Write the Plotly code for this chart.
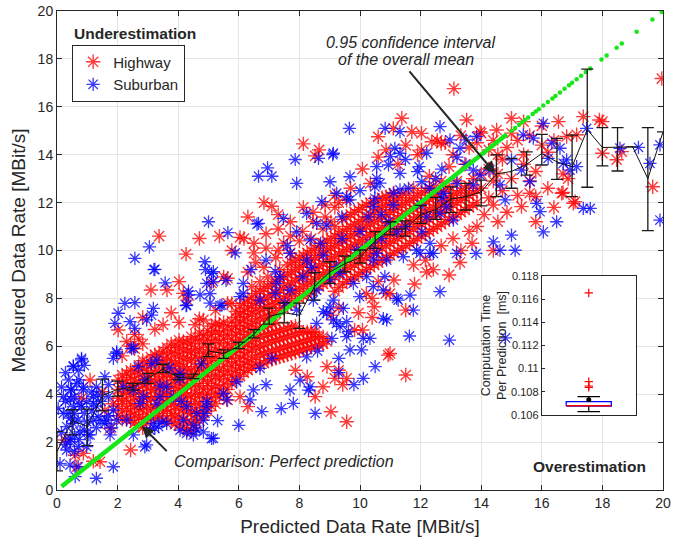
import plotly.graph_objects as go

# ---------------- data ----------------
# Highway samples, grouped by predicted rate: (predicted, [measured, ...])
highway_columns = [
    (0.26, [2.09]), (0.6, [1.45]), (0.65, [0.97]), (0.81, [3.83]), (0.87, [1.53]),
    (1.09, [4.59]), (1.2, [1.2]), (1.42, [1.18]), (1.5, [4.1]), (1.58, [3.33]),
    (1.75, [2.57]), (1.85, [3.6]),
    (2.02, [3.1, 3.5, 3.83, 4.2, 4.6, 6.68]),
    (2.15, [2.95, 3.3, 3.7, 4.05, 4.45, 4.8, 5.6]),
    (2.3, [3.0, 3.4, 3.75, 4.1, 4.5, 4.85, 6.2]),
    (2.43, [1.67, 2.9, 3.25, 3.6, 4.0, 4.35, 4.7, 5.0, 6.0]),
    (2.56, [2.8, 3.15, 3.5, 3.9, 4.25, 4.6, 4.95, 5.9, 6.5]),
    (2.7, [2.7, 3.05, 3.4, 3.8, 4.15, 4.5, 4.85, 5.2, 6.3]),
    (2.83, [2.6, 2.95, 3.35, 3.7, 4.05, 4.4, 4.75, 5.1, 5.4, 6.1, 7.2]),
    (2.96, [2.8, 3.15, 3.55, 3.9, 4.3, 4.65, 5.0, 5.35]),
    (3.1, [3.0, 3.4, 3.8, 4.15, 4.5, 4.85, 5.2, 5.55, 8.35]),
    (3.23, [3.05, 3.45, 3.85, 4.2, 4.55, 4.9, 5.3, 5.65, 6.7]),
    (3.37, [3.1, 3.5, 3.9, 4.25, 4.6, 4.95, 5.35, 5.7, 10.6]),
    (3.5, [2.9, 3.3, 3.65, 4.0, 4.4, 4.75, 5.1, 5.45, 5.8, 6.9]),
    (3.63, [3.0, 3.35, 3.75, 4.1, 4.45, 4.85, 5.2, 5.55, 5.95, 8.35]),
    (3.77, [2.85, 3.2, 3.6, 3.95, 4.3, 4.7, 5.05, 5.4, 5.75, 6.1, 7.4]),
    (3.9, [2.75, 3.1, 3.5, 3.85, 4.25, 4.6, 4.95, 5.3, 5.7, 6.05]),
    (4.03, [2.7, 3.05, 3.4, 3.8, 4.15, 4.5, 4.9, 5.25, 5.6, 5.95, 6.25, 7.0, 8.7]),
    (4.17, [2.6, 2.95, 3.35, 3.7, 4.05, 4.4, 4.8, 5.15, 5.5, 5.85, 6.2, 8.21]),
    (4.26, [9.85]),
    (4.3, [2.5, 2.85, 3.25, 3.6, 3.95, 4.35, 4.7, 5.05, 5.45, 5.8, 6.15, 7.93]),
    (4.43, [2.45, 2.8, 3.2, 3.55, 3.9, 4.3, 4.65, 5.0, 5.4, 5.75, 6.1, 6.4]),
    (4.56, [2.6, 2.95, 3.3, 3.7, 4.05, 4.45, 4.8, 5.15, 5.55, 5.9, 6.3, 6.9]),
    (4.7, [2.9, 3.25, 3.6, 4.0, 4.35, 4.75, 5.1, 5.5, 5.85, 6.25, 6.55, 7.15, 10.5]),
    (4.83, [3.1, 3.45, 3.85, 4.2, 4.6, 4.95, 5.35, 5.7, 6.1, 6.45, 7.1]),
    (4.97, [3.3, 3.7, 4.05, 4.45, 4.8, 5.2, 5.55, 5.95, 6.3, 6.65]),
    (5.1, [3.5, 3.85, 4.25, 4.6, 5.0, 5.4, 5.75, 6.15, 6.5, 6.85, 8.65]),
    (5.23, [3.6, 4.0, 4.35, 4.75, 5.1, 5.5, 5.85, 6.25, 6.6, 6.95, 7.5]),
    (5.36, [3.9, 4.25, 4.65, 5.0, 5.4, 5.75, 6.15, 6.5, 6.9, 10.6]),
    (5.5, [4.05, 4.4, 4.8, 5.15, 5.55, 5.9, 6.3, 6.65, 7.0, 8.9]),
    (5.63, [3.76, 4.2, 4.6, 4.95, 5.35, 5.7, 6.1, 6.45, 6.85, 7.8, 8.84]),
    (5.77, [4.45, 4.8, 5.2, 5.55, 5.95, 6.3, 6.7, 7.05, 7.79, 10.0]),
    (5.9, [4.6, 5.0, 5.35, 5.75, 6.1, 6.5, 6.85, 7.2, 7.45]),
    (6.04, [3.9, 4.75, 5.1, 5.5, 5.85, 6.25, 6.6, 7.0, 7.35, 7.7, 10.55]),
    (6.17, [4.9, 5.25, 5.6, 6.0, 6.35, 6.75, 7.1, 7.45, 7.8, 10.5]),
    (6.3, [3.48, 5.0, 5.35, 5.75, 6.1, 6.5, 6.85, 7.25, 7.6, 7.95, 9.1, 11.4]),
    (6.43, [5.1, 5.45, 5.85, 6.2, 6.6, 6.95, 7.35, 7.7, 8.05, 8.5]),
    (6.5, [9.9, 10.3]),
    (6.56, [5.2, 5.55, 5.95, 6.3, 6.7, 7.05, 7.45, 7.8, 8.2, 9.5]),
    (6.7, [5.25, 5.65, 6.0, 6.4, 6.75, 7.15, 7.5, 7.9, 8.3, 8.7]),
    (6.83, [5.3, 5.7, 6.05, 6.45, 6.8, 7.2, 7.6, 7.95, 8.4, 9.3, 12.0]),
    (6.9, [10.1, 10.7]),
    (6.96, [5.4, 5.75, 6.15, 6.5, 6.9, 7.3, 7.65, 8.05, 8.5, 8.9]),
    (7.09, [5.45, 5.8, 6.2, 6.55, 6.95, 7.35, 7.75, 8.15, 8.6, 11.85]),
    (7.22, [5.5, 5.85, 6.25, 6.6, 7.0, 7.4, 7.8, 8.25, 8.7, 9.7]),
    (7.3, [10.0, 10.9, 11.5]),
    (7.35, [5.55, 5.9, 6.3, 6.65, 7.5, 7.9, 8.35, 8.8, 9.2]),
    (7.48, [5.6, 5.95, 6.35, 6.7, 7.6, 8.0, 8.45, 8.9, 10.3]),
    (7.61, [5.65, 6.0, 6.4, 6.75, 7.7, 8.1, 8.55, 9.0, 9.4]),
    (7.7, [9.9, 10.6, 11.2]),
    (7.74, [5.7, 6.05, 6.45, 6.8, 7.8, 8.2, 8.65, 9.1, 9.5]),
    (7.87, [5.0, 5.75, 6.1, 6.5, 6.85, 7.9, 8.3, 8.75, 9.2, 9.6]),
    (8.0, [5.8, 6.15, 6.55, 8.0, 8.4, 8.85, 9.3, 9.7, 10.4]),
    (8.1, [10.8]),
    (8.13, [5.85, 6.2, 6.6, 8.1, 8.5, 8.95, 9.4, 9.8, 11.8, 14.45]),
    (8.26, [4.73, 5.9, 6.25, 6.6, 8.2, 8.6, 9.05, 9.5, 9.9]),
    (8.39, [5.95, 6.3, 6.6, 8.3, 8.7, 9.15, 9.6, 10.0, 10.5]),
    (8.45, [11.2, 11.6]),
    (8.52, [3.9, 6.0, 6.35, 6.6, 8.4, 8.8, 9.25, 9.7, 10.1, 13.95]),
    (8.65, [6.05, 6.4, 8.5, 8.9, 9.35, 9.8, 10.2, 14.2]),
    (8.78, [4.31, 6.1, 6.4, 8.6, 9.0, 9.45, 9.9, 10.3, 10.9]),
    (8.85, [11.4, 11.9]),
    (8.91, [5.15, 6.2, 8.7, 9.1, 9.55, 10.0, 10.4]),
    (9.04, [3.27, 7.3, 8.8, 9.2, 9.65, 10.1, 10.5, 11.2]),
    (9.17, [4.66, 8.3, 8.9, 9.3, 9.75, 10.2, 10.6, 11.0, 11.8, 12.3]),
    (9.3, [5.0, 7.6, 8.45, 9.0, 9.4, 9.85, 10.3, 10.7, 12.0]),
    (9.43, [4.4, 8.6, 9.1, 9.5, 9.95, 10.4, 10.8, 11.3]),
    (9.56, [2.85, 4.66, 8.7, 9.2, 9.6, 10.05, 10.5, 10.9, 11.4, 12.1]),
    (9.69, [8.8, 9.3, 9.7, 10.15, 10.6, 11.0, 11.5, 12.6]),
    (9.82, [6.68, 8.9, 9.4, 9.8, 10.25, 10.7, 11.1, 11.6]),
    (9.95, [7.4, 9.0, 9.5, 9.9, 10.35, 10.8, 11.2, 11.7]),
    (10.08, [6.68, 9.1, 9.6, 10.0, 10.45, 10.9, 11.3, 11.8, 13.4]),
    (10.21, [8.2, 9.2, 9.7, 10.1, 10.55, 11.0, 11.4, 11.9]),
    (10.34, [9.3, 9.8, 10.2, 10.65, 11.1, 11.5, 12.0, 12.8]),
    (10.4, [7.2, 8.0]),
    (10.47, [7.65, 9.4, 9.9, 10.3, 10.75, 11.2, 11.6, 12.0]),
    (10.6, [8.7, 9.5, 10.0, 10.4, 10.85, 11.3, 11.7, 12.1, 13.9, 14.75]),
    (10.73, [9.6, 10.1, 10.5, 10.95, 11.4, 11.8, 12.2]),
    (10.86, [8.21, 9.7, 10.2, 10.6, 11.05, 11.5, 11.9, 12.25, 14.2]),
    (10.93, [5.63]),
    (10.99, [5.7, 8.2, 9.8, 10.3, 10.7, 11.15, 11.6, 12.0, 12.3]),
    (11.1, [15.1]),
    (11.12, [8.77, 9.9, 10.4, 10.8, 11.25, 11.7, 12.1, 12.4]),
    (11.25, [10.0, 10.5, 10.9, 11.35, 11.8, 12.2, 13.6]),
    (11.38, [10.1, 10.6, 11.0, 11.45, 11.9, 12.3, 15.52]),
    (11.51, [4.8, 7.51, 10.2, 10.7, 11.1, 11.55, 12.0, 12.4, 14.4]),
    (11.64, [10.3, 10.8, 11.2, 11.65, 12.1]),
    (11.71, [14.96]),
    (11.77, [9.4, 10.4, 10.9, 11.3, 11.75, 12.2, 12.6]),
    (11.8, [8.6]),
    (11.9, [10.5, 11.0, 11.4, 11.85, 12.3, 14.0]),
    (12.03, [10.6, 11.1, 11.5, 11.95, 12.4, 14.2, 14.89]),
    (12.16, [9.6, 10.7, 11.2, 11.6, 12.05, 12.5]),
    (12.2, [9.1]),
    (12.29, [10.8, 11.3, 11.7, 12.15, 12.6, 13.1]),
    (12.37, [14.54]),
    (12.42, [9.2, 10.9, 11.4, 11.8, 12.25, 12.7]),
    (12.55, [11.0, 11.5, 11.9, 12.35, 14.6]),
    (12.68, [10.2, 11.1, 11.6, 12.0, 12.45, 12.9, 14.47]),
    (12.81, [11.2, 11.7, 12.1, 12.55, 14.5]),
    (12.94, [8.98, 11.3, 11.8, 12.2, 12.65, 13.5]),
    (13.07, [10.5, 11.4, 11.9, 12.3, 14.0]),
    (13.1, [16.76]),
    (13.2, [11.5, 12.0, 12.4, 12.9]),
    (13.3, [9.5]),
    (13.33, [10.0, 11.6, 12.1, 12.5, 14.8]),
    (13.46, [11.7, 12.2, 12.6, 13.6]),
    (13.52, [15.45]),
    (13.6, [10.8, 11.8, 12.3, 12.7, 14.3]),
    (13.7, [10.3]),
    (13.73, [11.9, 12.4, 13.0]),
    (13.86, [11.0, 12.0, 12.5, 14.5]),
    (13.96, [14.96]),
    (14.0, [12.6, 13.2, 14.9]),
    (14.1, [11.5]),
    (14.25, [12.2, 13.4, 14.2]),
    (14.4, [10.0, 11.9, 12.9, 14.6]),
    (14.51, [15.03]),
    (14.55, [11.2, 13.2, 14.0]),
    (14.7, [12.5, 13.8]),
    (14.85, [11.6, 14.3]),
    (15.0, [13.0, 14.9, 15.52]),
    (15.2, [12.3, 14.6]),
    (15.33, [11.83]),
    (15.4, [13.6, 14.0, 15.38]),
    (15.6, [12.39, 12.9, 14.8]),
    (15.8, [11.2, 12.25, 13.3]),
    (16.0, [14.4, 15.2]),
    (16.2, [12.6, 14.1]),
    (16.4, [11.8, 14.6]),
    (16.55, [15.38]),
    (16.66, [12.39]),
    (16.7, [12.42, 13.2]),
    (16.82, [14.76]),
    (16.87, [13.0]),
    (17.04, [11.97]),
    (17.1, [12.04]),
    (17.15, [14.83]),
    (17.37, [15.59]),
    (17.9, [15.45]),
    (18.0, [14.06, 15.38]),
    (18.47, [13.79]),
    (18.64, [14.13]),
    (19.66, [12.66]),
    (19.96, [17.18]),
]

# Suburban samples, grouped by predicted rate: (predicted, [measured, ...])
suburban_columns = [
    (0.04, [3.41]), (0.1, [1.1]), (0.15, [2.4, 4.3]), (0.21, [3.2, 3.9]),
    (0.28, [1.9, 3.7, 4.9]), (0.32, [1.67, 2.65]), (0.37, [3.2]), (0.38, [4.6]),
    (0.43, [1.04, 2.02, 2.15]), (0.45, [3.0, 3.8, 4.2]), (0.48, [4.17]),
    (0.54, [2.78, 3.48, 5.15, 5.18]), (0.58, [1.6, 2.3, 3.2, 3.9]), (0.6, [0.56]),
    (0.65, [4.45]), (0.7, [0.97, 1.81, 2.92, 5.0]), (0.73, [2.1, 3.6, 4.6]),
    (0.76, [2.43]), (0.81, [3.48, 5.43, 5.5]), (0.87, [4.18, 4.31]),
    (0.9, [2.5, 3.2, 5.2]), (0.98, [1.81, 2.85, 3.69]), (1.03, [2.3]), (1.09, [2.3]),
    (1.15, [3.3, 4.1]), (1.2, [2.92, 3.62, 3.9]), (1.3, [0.49, 2.6, 3.5, 4.3]),
    (1.36, [3.06, 3.97]), (1.45, [2.9, 3.7]), (1.58, [2.78, 4.73]), (1.64, [2.92]),
    (1.7, [3.1, 3.9, 4.4]), (1.75, [2.3]), (1.8, [2.6]), (1.86, [0.97, 3.34, 5.5]),
    (1.91, [6.96]), (1.97, [2.92, 5.71, 5.77]), (2.02, [7.38]), (2.19, [4.31]),
    (2.24, [7.79]), (2.3, [2.92]), (2.41, [7.03]), (2.46, [5.9]),
    (2.52, [2.3, 4.18, 5.92]), (2.57, [6.75, 7.82, 9.67]), (2.68, [5.15]),
    (2.74, [3.62]), (2.85, [3.9]), (2.9, [1.8, 4.6]), (2.96, [1.88, 7.1]),
    (3.05, [10.15]), (3.07, [2.5]), (3.12, [5.28, 7.3]), (3.18, [2.78, 7.58]),
    (3.2, [9.2]), (3.23, [2.57, 9.21]), (3.29, [5.42]), (3.3, [3.6]), (3.35, [2.65]),
    (3.4, [3.9, 4.35]), (3.46, [2.85]), (3.57, [8.65]), (3.62, [2.78, 4.31]),
    (3.7, [5.1]), (3.84, [3.9]), (4.06, [2.5, 4.63, 4.87]), (4.1, [3.7]),
    (4.17, [2.92]), (4.26, [7.7]), (4.28, [2.37, 3.48, 7.72]), (4.34, [8.15, 8.3]),
    (4.5, [2.3, 2.71]), (4.61, [2.5, 3.2]), (4.72, [8.15]), (4.77, [5.27]),
    (4.83, [2.43, 2.92]), (4.88, [3.2, 9.53]), (4.9, [9.2]), (4.94, [3.48, 3.69, 8.63]),
    (5.0, [11.2]), (5.05, [7.8, 8.2]), (5.1, [2.15, 9.05]), (5.16, [2.16, 8.7, 9.12]),
    (5.3, [2.9]), (5.38, [7.7]), (5.44, [7.72]), (5.49, [4.03]), (5.58, [8.75]),
    (5.6, [3.76]), (5.64, [10.75]), (5.88, [9.9]), (5.93, [4.52]), (6.0, [2.7]),
    (6.04, [8.07]), (6.15, [8.21, 8.63]), (6.37, [3.76]), (6.4, [9.2]),
    (6.48, [4.18]), (6.6, [11.1]), (6.65, [11.13, 13.1]), (6.7, [5.08, 7.93]),
    (6.76, [3.27]), (6.9, [4.4, 9.6]), (6.95, [13.45]), (7.09, [5.5, 13.1]),
    (7.2, [8.21, 9.12]), (7.25, [8.63]), (7.36, [8.91]), (7.4, [3.4]),
    (7.47, [11.34]), (7.53, [7.79]), (7.6, [10.2]), (7.69, [4.18, 8.35, 9.88]),
    (7.8, [3.62]), (7.86, [13.8]), (7.91, [7.51, 10.78, 12.8]), (8.02, [4.59]),
    (8.1, [8.9]), (8.24, [5.56, 9.6, 11.55]), (8.3, [4.17]), (8.35, [4.31, 10.44]),
    (8.4, [9.3]), (8.46, [7.93]), (8.52, [3.2]), (8.57, [6.96, 8.35, 11.13]),
    (8.6, [5.8]), (8.63, [13.85]), (8.7, [10.3]), (8.74, [12.04]), (8.79, [7.45, 9.81]),
    (8.9, [7.38, 11.06]), (9.01, [7.65, 8.77, 12.87]), (9.07, [6.33]),
    (9.1, [14.0]), (9.12, [7.1, 7.93, 14.06]), (9.23, [6.96, 9.33, 12.39]),
    (9.3, [4.9, 5.5]), (9.34, [6.82, 9.05]), (9.4, [10.5, 11.4]), (9.45, [7.58]),
    (9.56, [6.4, 7.03, 12.25]), (9.62, [6.61]), (9.65, [15.1]),
    (9.67, [5.85, 12.11, 13.08]), (9.78, [8.63]), (9.8, [4.4]), (9.89, [10.02]),
    (9.99, [8.07]), (10.0, [10.8, 12.5]), (10.05, [5.85]), (10.11, [4.66, 6.33]),
    (10.22, [8.91]), (10.27, [11.4]), (10.33, [6.33, 10.3]),
    (10.44, [8.49, 9.6, 11.83]), (10.49, [12.18, 12.66]), (10.5, [5.15]),
    (10.55, [9.88, 13.01, 13.5]), (10.66, [12.81]), (10.7, [10.5, 11.5]),
    (10.77, [7.16, 8.35]), (10.82, [8.91]), (10.83, [15.1]), (10.88, [7.1, 9.6]),
    (10.94, [11.2, 13.57]), (11.0, [13.92]), (11.1, [11.9, 12.4]), (11.15, [14.27]),
    (11.21, [8.0, 10.78]), (11.26, [7.93]), (11.32, [12.53, 13.22, 14.06, 14.96]),
    (11.43, [9.74]), (11.5, [11.0, 13.8]), (11.6, [12.6]), (11.63, [6.43]),
    (11.65, [8.14]), (11.76, [7.51]), (11.87, [10.02]), (11.9, [13.29]),
    (11.95, [13.5]), (11.98, [9.88]), (12.0, [11.9]), (12.04, [10.78, 12.87]),
    (12.2, [11.4, 14.06]), (12.3, [12.6]), (12.31, [9.88, 10.3]), (12.42, [9.88]),
    (12.5, [13.0]), (12.64, [8.28, 11.55, 15.17]), (12.7, [12.2, 13.4]),
    (12.75, [12.39]), (12.86, [11.83]), (12.95, [6.26]), (12.97, [14.62]),
    (13.08, [11.27]), (13.19, [9.88]), (13.2, [12.8, 13.9]), (13.3, [14.27]),
    (13.5, [13.6, 14.62]), (13.74, [12.74, 13.36]), (13.83, [9.88]),
    (13.85, [14.76]), (13.96, [13.15]), (14.29, [13.36]), (14.4, [10.36]),
    (14.62, [10.01, 12.74]), (14.79, [12.11]), (14.8, [6.35]),
    (15.0, [10.64, 13.78]), (15.12, [10.01]), (15.33, [13.36]), (15.39, [14.83]),
    (15.61, [12.88]), (15.72, [14.69]), (15.83, [11.97]), (15.94, [11.62]),
    (16.05, [10.78, 15.31]), (16.21, [13.85]), (16.33, [14.48]), (16.49, [11.2]),
    (16.6, [14.27]), (16.71, [13.64]), (16.82, [13.78]), (16.93, [13.36]),
    (17.15, [13.5]), (17.37, [11.76]), (17.48, [15.1]), (17.6, [11.76]),
    (18.58, [14.27]), (19.19, [14.31]), (19.57, [13.64]), (19.9, [11.27, 14.41]),
]

# Perfect prediction reference (measured = predicted)
perfect_solid = [0.15, 14.85]
perfect_dots = [15.0, 15.12, 15.25, 15.35, 15.45, 15.55, 15.7, 15.8, 15.9, 16.05,
                16.2, 16.35, 16.45, 16.6, 16.75, 16.9, 17.0, 17.15, 17.3, 17.45,
                17.6, 17.97, 18.14, 18.47, 18.64, 19.13, 19.65, 19.96]

# Binned overall mean and its 0.95 confidence interval
bin_pred = [0, 0.5, 1, 1.5, 2, 2.5, 3, 3.5, 4, 4.5, 5, 5.5, 6, 6.5, 7, 7.5, 8, 8.5, 9, 9.5,
            10, 10.5, 11, 11.5, 12, 12.5, 13, 13.5, 14, 14.5, 15, 15.5, 16, 16.5, 17, 17.5,
            18, 18.5, 19, 19.5, 20]
bin_mean = [1.6, 2.9, 2.65, 3.95, 4.2, 4.3, 4.65, 5.05, 4.7, 4.72, 5.8, 5.7, 6.0, 6.5, 7.25,
            7.4, 7.3, 8.5, 9.1, 9.45, 9.7, 10.4, 10.9, 10.9, 11.5, 11.7, 12.15, 12.25, 12.45,
            13.2, 13.3, 13.6, 14.05, 13.7, 13.5, 15.05, 14.3, 14.3, 14.33, 13.0, 14.95]
ci_low = [0.8, 2.3, 1.85, 3.3, 3.92, 4.17, 4.45, 4.9, 4.6, 4.65, 5.57, 5.5, 5.9, 6.35, 6.93,
          6.98, 6.75, 7.93, 8.63, 9.11, 9.47, 10.09, 10.65, 10.6, 11.13, 11.3, 11.58, 11.69,
          11.86, 12.25, 12.6, 13.15, 13.57, 12.97, 12.25, 12.64, 13.53, 13.32, None, 10.83, None]
ci_high = [2.45, 3.35, 3.38, 4.63, 4.55, 4.45, 4.87, 5.25, 4.83, 4.84, 6.1, 5.85, 6.17, 6.7,
           7.59, 7.82, 7.8, 9.07, 9.53, 9.77, 10.02, 10.79, 11.2, 11.24, 11.88, 12.22, 12.66,
           12.8, 12.94, 13.99, 13.85, 14.12, 14.85, 14.68, 14.82, 17.57, 15.13, 15.13, None,
           15.13, None]

# Inset: computation time per prediction [ms]
time_q1 = [0.10677]
time_median = [0.1068]
time_q3 = [0.10715]
time_whisker_low = [0.10629]
time_whisker_high = [0.10758]
time_mean = [0.10732]
time_outliers = [0.11653, 0.10887, 0.1085, 0.10838]

# ---------------- build figure ----------------
FONT = "Liberation Sans, Arial, Helvetica, sans-serif"
TXT = "#262626"
RED = "rgba(255,0,0,0.78)"
BLUE = "rgba(0,0,255,0.78)"


def expand(cols):
    xs, ys = [], []
    for x, vals in cols:
        for v in vals:
            xs.append(x)
            ys.append(v)
    return xs, ys


hw_x, hw_y = expand(highway_columns)
sb_x, sb_y = expand(suburban_columns)

err_plus = [None if h is None else h - m for h, m in zip(ci_high, bin_mean)]
err_minus = [None if l is None else m - l for l, m in zip(ci_low, bin_mean)]

fig = go.Figure()

fig.add_trace(go.Scatter(
    x=hw_x, y=hw_y, mode="markers", name="Highway",
    marker=dict(symbol="asterisk-open", size=12, color=RED,
                line=dict(color=RED, width=1.4)),
))
fig.add_trace(go.Scatter(
    x=sb_x, y=sb_y, mode="markers", name="Suburban",
    marker=dict(symbol="asterisk-open", size=11, color=BLUE,
                line=dict(color=BLUE, width=1.3)),
))
fig.add_trace(go.Scatter(
    x=perfect_solid, y=perfect_solid, mode="lines", showlegend=False,
    line=dict(color="#17e617", width=4.5),
))
fig.add_trace(go.Scatter(
    x=perfect_dots, y=perfect_dots, mode="markers", showlegend=False,
    marker=dict(color="#17e617", size=4.5, symbol="circle"),
))
fig.add_trace(go.Scatter(
    x=bin_pred, y=bin_mean, mode="lines", showlegend=False,
    line=dict(color="#111111", width=1),
    error_y=dict(type="data", symmetric=False, array=err_plus, arrayminus=err_minus,
                 color="#1a1a1a", thickness=1.3, width=6),
))

# inset box plot
bx = [1.0]
half = 0.24
cap = 0.12
for q1, q3 in zip(time_q1, time_q3):
    fig.add_trace(go.Scatter(
        x=[bx[0] - half, bx[0] + half, bx[0] + half, bx[0] - half, bx[0] - half],
        y=[q1, q1, q3, q3, q1], mode="lines", showlegend=False,
        line=dict(color="#0000ff", width=1.3), xaxis="x2", yaxis="y2"))
for lo, hi, q1, q3 in zip(time_whisker_low, time_whisker_high, time_q1, time_q3):
    fig.add_trace(go.Scatter(
        x=[bx[0], bx[0], None, bx[0] - cap, bx[0] + cap, None,
           bx[0], bx[0], None, bx[0] - cap, bx[0] + cap],
        y=[q3, hi, None, hi, hi, None, q1, lo, None, lo, lo],
        mode="lines", showlegend=False, line=dict(color="#000000", width=1.2),
        xaxis="x2", yaxis="y2"))
for med in time_median:
    fig.add_trace(go.Scatter(
        x=[bx[0] - half, bx[0] + half], y=[med, med], mode="lines", showlegend=False,
        line=dict(color="#ff0000", width=1.6), xaxis="x2", yaxis="y2"))
fig.add_trace(go.Scatter(
    x=bx * len(time_mean), y=time_mean, mode="markers", showlegend=False,
    marker=dict(color="#000000", size=5), xaxis="x2", yaxis="y2"))
fig.add_trace(go.Scatter(
    x=bx * len(time_outliers), y=time_outliers, mode="markers", showlegend=False,
    marker=dict(symbol="cross-thin-open", size=6, color="#ff0000",
                line=dict(color="#ff0000", width=1.2)),
    xaxis="x2", yaxis="y2"))

axis_common = dict(
    range=[0, 20], dtick=2, tick0=0, ticks="inside", ticklen=5, tickcolor=TXT,
    showline=True, linecolor=TXT, linewidth=1, mirror="ticks",
    showgrid=True, gridcolor="#e4e4e4", gridwidth=1, zeroline=False,
    tickfont=dict(family=FONT, size=14, color=TXT), automargin=False,
)

fig.update_layout(
    width=684, height=537,
    margin=dict(l=57, r=21, t=11, b=47),
    paper_bgcolor="white", plot_bgcolor="white",
    font=dict(family=FONT, color=TXT),
    xaxis=dict(axis_common, domain=[0, 1],
               title=dict(text="Predicted Data Rate [MBit/s]",
                          font=dict(family=FONT, size=19, color=TXT), standoff=11)),
    yaxis=dict(axis_common, domain=[0, 1],
               title=dict(text="Measured Data Rate [MBit/s]",
                          font=dict(family=FONT, size=19, color=TXT), standoff=6)),
    xaxis2=dict(domain=[0.800, 0.955], anchor="y2", range=[0.5, 1.5],
                showticklabels=False, ticks="", showgrid=False, zeroline=False,
                showline=True, linecolor=TXT, linewidth=1, mirror=True, automargin=False),
    yaxis2=dict(domain=[0.1566, 0.447], anchor="x2", range=[0.106, 0.118],
                dtick=0.002, tick0=0.106, ticks="inside", ticklen=3, tickcolor=TXT,
                showgrid=False, zeroline=False, automargin=False,
                showline=True, linecolor=TXT, linewidth=1, mirror=True,
                tickfont=dict(family=FONT, size=11, color=TXT),
                title=dict(text="Computation Time<br>Per Prediction  [ms]",
                           font=dict(family=FONT, size=12.5, color=TXT), standoff=1)),
    legend=dict(x=0.025, y=0.93, xanchor="left", yanchor="top",
                bgcolor="white", bordercolor="#262626", borderwidth=1,
                font=dict(family=FONT, size=15, color=TXT),
                itemwidth=30, tracegroupgap=0),
    showlegend=True,
)

annotations = [
    dict(x=0.025, y=0.954, xref="paper", yref="paper", xanchor="left", yanchor="middle",
         text="<b>Underestimation</b>", showarrow=False,
         font=dict(family=FONT, size=15.5, color=TXT)),
    dict(x=0.975, y=0.05, xref="paper", yref="paper", xanchor="right", yanchor="middle",
         text="<b>Overestimation</b>", showarrow=False,
         font=dict(family=FONT, size=15.5, color=TXT)),
    dict(x=11.65, y=18.7, xref="x", yref="y", xanchor="center", yanchor="middle",
         text="<i>0.95 confidence interval</i>", showarrow=False,
         font=dict(family=FONT, size=16, color=TXT)),
    dict(x=11.51, y=17.98, xref="x", yref="y", xanchor="center", yanchor="middle",
         text="<i>of the overall mean</i>", showarrow=False,
         font=dict(family=FONT, size=16, color=TXT)),
    dict(x=3.79, y=1.21, xref="x", yref="y", xanchor="left", yanchor="middle",
         text="<i>Comparison: Perfect prediction</i>", showarrow=False,
         font=dict(family=FONT, size=16, color=TXT)),
    dict(x=14.46, y=13.22, xref="x", yref="y", ax=11.59, ay=17.54, axref="x", ayref="y",
         text="", showarrow=True, arrowhead=2, arrowsize=1.2, arrowwidth=2,
         arrowcolor=TXT),
    dict(x=2.8, y=2.67, xref="x", yref="y", ax=3.67, ay=1.56, axref="x", ayref="y",
         text="", showarrow=True, arrowhead=2, arrowsize=1.2, arrowwidth=2,
         arrowcolor=TXT),
]
fig.update_layout(annotations=annotations)

fig.write_html("out.html", config={"displayModeBar": False},
               post_script="document.body.style.margin='0';document.body.style.overflow='hidden';")
